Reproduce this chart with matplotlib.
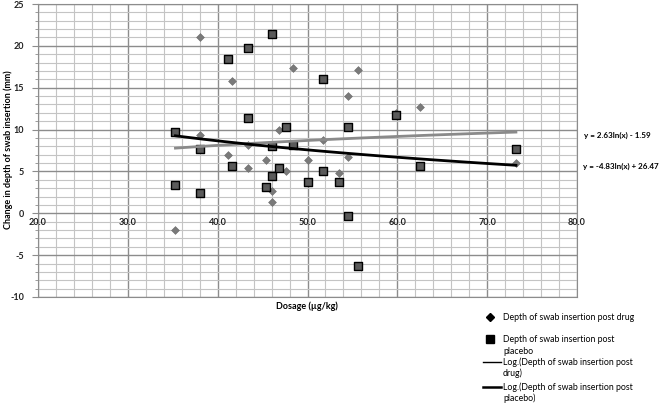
import numpy as np
import matplotlib
matplotlib.use("Agg")
import matplotlib.pyplot as plt
from matplotlib.lines import Line2D

plt.rcParams['font.family'] = ['Lato', 'DejaVu Sans']

# Data
drug_x = [35.3, 38.0, 38.0, 41.1, 41.6, 43.4, 43.4, 45.4, 46.1, 46.1, 46.8, 47.6,
          48.4, 50.0, 51.7, 53.5, 54.5, 54.5, 55.6, 59.9, 62.5, 73.2]
drug_y = [-2.0, 21.1, 9.4, 7.0, 15.8, 8.1, 5.4, 6.4, 2.7, 1.3, 10.0, 5.0,
          17.4, 6.4, 8.7, 4.8, 14.0, 6.7, 17.1, 12.0, 12.7, 6.0]

placebo_x = [35.3, 35.3, 38.0, 38.0, 41.1, 41.6, 43.4, 43.4, 45.4, 46.1, 46.1, 46.1,
             46.8, 47.6, 48.4, 50.0, 51.7, 51.7, 53.5, 54.5, 54.5, 55.6, 59.9, 62.5, 73.2]
placebo_y = [9.7, 3.4, 7.7, 2.4, 18.4, 5.7, 19.7, 11.4, 3.1, 21.4, 8.0, 4.4,
             5.4, 10.3, 8.1, 3.7, 16.0, 5.0, 3.7, 10.3, -0.3, -6.3, 11.7, 5.7, 7.7]

drug_coef = (2.63, -1.59)
placebo_coef = (-4.83, 26.47)
drug_eq = "y = 2.63ln(x) - 1.59"
placebo_eq = "y = -4.83ln(x) + 26.47"

fig = plt.figure(figsize=(6.66, 4.09), dpi=100)
W, H = 666, 409
left, right, top, bottom = 38, 577, 4, 297
ax = fig.add_axes([left / W, 1 - bottom / H, (right - left) / W, (bottom - top) / H])
ax.set_xlim(20, 80)
ax.set_ylim(-10, 25)

# grid
for xv in np.arange(20, 80.1, 2):
    major = abs(xv % 10) < 1e-6
    ax.axvline(xv, color='#8c8c8c' if major else '#c4c4c4', lw=1.0 if major else 0.8, zorder=0)
for yv in np.arange(-10, 25.1, 1):
    major = abs(yv % 5) < 1e-6
    ax.axhline(yv, color='#8c8c8c' if major else '#c4c4c4', lw=1.0 if major else 0.8, zorder=0)

for s in ['top', 'right', 'bottom']:
    ax.spines[s].set_color('#8c8c8c')
    ax.spines[s].set_linewidth(0.8)
ax.spines['left'].set_color('#8c8c8c')

ax.set_yticks(np.arange(-10, 26, 5))
ax.set_yticks(np.arange(-10, 26, 1), minor=True)
ax.set_yticklabels([f"{int(v)}" for v in np.arange(-10, 26, 5)], fontsize=6.5, fontweight='bold', color='#222222')
ax.tick_params(axis='y', which='major', length=4, color='#8c8c8c', pad=6)
ax.tick_params(axis='y', which='minor', length=2, color='#8c8c8c')
ax.set_xticks([])

# x tick labels along y=0
for xv in np.arange(20, 81, 10):
    ax.text(xv, -0.6, f"{xv:.1f}", ha='center', va='top', fontsize=6.5, fontweight='bold', color='#222222')

# scatter
ax.scatter(drug_x, drug_y, marker='D', s=16, color='#7a7a7a', edgecolors='#6a6a6a', linewidths=0.4, zorder=3)
ax.scatter(placebo_x, placebo_y, marker='s', s=34, color='#5a5a5a', edgecolors='black', linewidths=1.0, zorder=4)

# trendlines
xs = np.linspace(min(drug_x), max(drug_x), 100)
ax.plot(xs, drug_coef[0] * np.log(xs) + drug_coef[1], color='#8a8a8a', lw=2.0, zorder=5)
xs2 = np.linspace(min(placebo_x), max(placebo_x), 100)
ax.plot(xs2, placebo_coef[0] * np.log(xs2) + placebo_coef[1], color='black', lw=2.0, zorder=5)

fig.text(8 / W, 1 - 150 / H, "Change in depth of swab insertion (mm)", ha='center', va='center',
         rotation=90, fontsize=6.5, fontweight='bold')

fig.text(307 / W, 1 - 306 / H, "Dosage (µg/kg)", ha='center', va='center', fontsize=6.5, fontweight='bold')

fig.text(584 / W, 1 - 135 / H, drug_eq, ha='left', va='center', fontsize=5.8, fontweight='bold')
fig.text(583 / W, 1 - 166 / H, placebo_eq, ha='left', va='center', fontsize=5.8, fontweight='bold')

# legend (manual)
fs = 6.3
rows = [(317, "Depth of swab insertion post drug"),
        (340, "Depth of swab insertion post"),
        (351, "placebo"),
        (362, "Log.(Depth of swab insertion post"),
        (373, "drug)"),
        (387, "Log.(Depth of swab insertion post"),
        (398, "placebo)")]
for yy, t in rows:
    fig.text(503 / W, 1 - yy / H, t, ha='left', va='center', fontsize=fs)
fig.add_artist(Line2D([490 / W], [1 - 317 / H], marker='D', markersize=4, color='black', transform=fig.transFigure))
fig.add_artist(Line2D([490 / W], [1 - 339 / H], marker='s', markersize=6, color='black', transform=fig.transFigure))
fig.add_artist(Line2D([483 / W, 501 / W], [1 - 362 / H] * 2, color='black', lw=1.0, transform=fig.transFigure))
fig.add_artist(Line2D([483 / W, 501 / W], [1 - 387 / H] * 2, color='black', lw=1.8, transform=fig.transFigure))

fig.savefig("out.png", dpi=100)
